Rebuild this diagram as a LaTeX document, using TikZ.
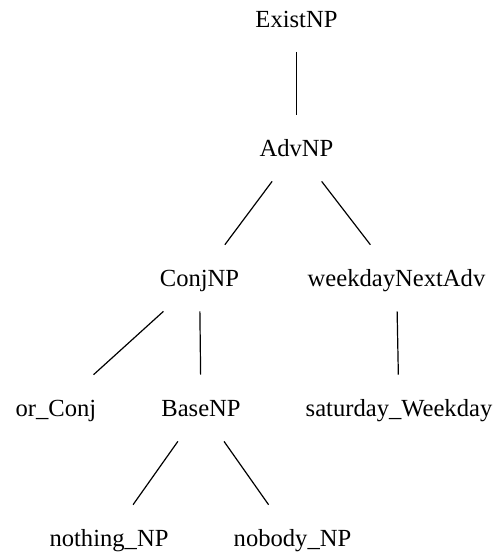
\documentclass[tikz,border=0pt]{standalone}
\usepackage{fontspec}
\setmainfont{Liberation Serif}
\usetikzlibrary{calc}
\begin{document}
\begin{tikzpicture}[x=1pt,y=1pt,
  lbl/.style={anchor=base,inner sep=0pt,text height=17pt,text depth=1pt,
    font=\fontsize{24.6}{28}\selectfont},
  edge/.style={line width=1.2pt,black}]
\useasboundingbox (0,0) rectangle (500,556);
\node[lbl] (exist) at (296.5,528.7) {ExistNP};
\node[lbl] (adv) at (296.5,399.3) {AdvNP};
\node[lbl] (conj) at (199.5,269.3) {ConjNP};
\node[lbl] (wna) at (396.5,269.3) {weekdayNextAdv};
\node[lbl] (or) at (56,139.3) {or\_Conj};
\node[lbl] (base) at (201,139.3) {BaseNP};
\node[lbl] (sat) at (399,139.3) {saturday\_Weekday};
\node[lbl] (nothing) at (109,9.3) {nothing\_NP};
\node[lbl] (nobody) at (292.5,9.3) {nobody\_NP};
\foreach \a/\b in {exist/adv, adv/conj, adv/wna, conj/or, conj/base, wna/sat, base/nothing, base/nobody}
  \draw[edge] ($(\a)!0.2515!(\b)$) -- ($(\a)!0.7385!(\b)$);
\end{tikzpicture}
\end{document}
